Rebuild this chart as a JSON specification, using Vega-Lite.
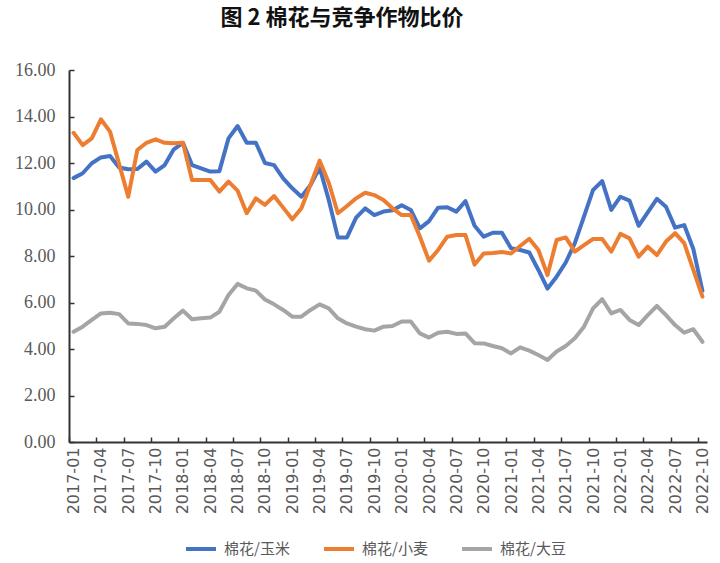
{
  "$schema": "https://vega.github.io/schema/vega-lite/v6.json",
  "autosize": {"type": "none"},
  "width": 638,
  "height": 372,
  "padding": {"left": 69, "top": 70, "right": 13, "bottom": 121},
  "background": "white",
  "title": {
    "text": "图 2  棉花与竞争作物比价",
    "font": "Noto Sans CJK SC",
    "fontSize": 22,
    "fontWeight": "bold",
    "color": "#111111",
    "anchor": "middle",
    "dx": -46,
    "offset": 31
  },
  "data": {
    "values": [
      {"month": "2017-01", "棉花/玉米": 11.35, "棉花/小麦": 13.3, "棉花/大豆": 4.74},
      {"month": "2017-02", "棉花/玉米": 11.56, "棉花/小麦": 12.77, "棉花/大豆": 4.96},
      {"month": "2017-03", "棉花/玉米": 11.99, "棉花/小麦": 13.06, "棉花/大豆": 5.25},
      {"month": "2017-04", "棉花/玉米": 12.24, "棉花/小麦": 13.88, "棉花/大豆": 5.53},
      {"month": "2017-05", "棉花/玉米": 12.3, "棉花/小麦": 13.35, "棉花/大豆": 5.56},
      {"month": "2017-06", "棉花/玉米": 11.81, "棉花/小麦": 11.95, "棉花/大豆": 5.5},
      {"month": "2017-07", "棉花/玉米": 11.73, "棉花/小麦": 10.55, "棉花/大豆": 5.1},
      {"month": "2017-08", "棉花/玉米": 11.74, "棉花/小麦": 12.56, "棉花/大豆": 5.08},
      {"month": "2017-09", "棉花/玉米": 12.06, "棉花/小麦": 12.87, "棉花/大豆": 5.03},
      {"month": "2017-10", "棉花/玉米": 11.63, "棉花/小麦": 13.02, "棉花/大豆": 4.89},
      {"month": "2017-11", "棉花/玉米": 11.91, "棉花/小麦": 12.87, "棉花/大豆": 4.96},
      {"month": "2017-12", "棉花/玉米": 12.59, "棉花/小麦": 12.85, "棉花/大豆": 5.32},
      {"month": "2018-01", "棉花/玉米": 12.87, "棉花/小麦": 12.87, "棉花/大豆": 5.65},
      {"month": "2018-02", "棉花/玉米": 11.91, "棉花/小麦": 11.27, "棉花/大豆": 5.28},
      {"month": "2018-03", "棉花/玉米": 11.77, "棉花/小麦": 11.27, "棉花/大豆": 5.32},
      {"month": "2018-04", "棉花/玉米": 11.63, "棉花/小麦": 11.27, "棉花/大豆": 5.35},
      {"month": "2018-05", "棉花/玉米": 11.65, "棉花/小麦": 10.77, "棉花/大豆": 5.6},
      {"month": "2018-06", "棉花/玉米": 13.06, "棉花/小麦": 11.2, "棉花/大豆": 6.32},
      {"month": "2018-07", "棉花/玉米": 13.59, "棉花/小麦": 10.81, "棉花/大豆": 6.8},
      {"month": "2018-08", "棉花/玉米": 12.87, "棉花/小麦": 9.84, "棉花/大豆": 6.61},
      {"month": "2018-09", "棉花/玉米": 12.87, "棉花/小麦": 10.48, "棉花/大豆": 6.51},
      {"month": "2018-10", "棉花/玉米": 12.0, "棉花/小麦": 10.2, "棉花/大豆": 6.13},
      {"month": "2018-11", "棉花/玉米": 11.91, "棉花/小麦": 10.58, "棉花/大豆": 5.92},
      {"month": "2018-12", "棉花/玉米": 11.34, "棉花/小麦": 10.08, "棉花/大豆": 5.68},
      {"month": "2019-01", "棉花/玉米": 10.91, "棉花/小麦": 9.58, "棉花/大豆": 5.39},
      {"month": "2019-02", "棉花/玉米": 10.55, "棉花/小麦": 10.05, "棉花/大豆": 5.39},
      {"month": "2019-03", "棉花/玉米": 11.05, "棉花/小麦": 11.07, "棉花/大豆": 5.68},
      {"month": "2019-04", "棉花/玉米": 11.8, "棉花/小麦": 12.1, "棉花/大豆": 5.92},
      {"month": "2019-05", "棉花/玉米": 10.41, "棉花/小麦": 11.15, "棉花/大豆": 5.75},
      {"month": "2019-06", "棉花/玉米": 8.8, "棉花/小麦": 9.84, "棉花/大豆": 5.32},
      {"month": "2019-07", "棉花/玉米": 8.8, "棉花/小麦": 10.15, "棉花/大豆": 5.1},
      {"month": "2019-08", "棉花/玉米": 9.65, "棉花/小麦": 10.48, "棉花/大豆": 4.96},
      {"month": "2019-09", "棉花/玉米": 10.05, "棉花/小麦": 10.72, "棉花/大豆": 4.85},
      {"month": "2019-10", "棉花/玉米": 9.76, "棉花/小麦": 10.62, "棉花/大豆": 4.79},
      {"month": "2019-11", "棉花/玉米": 9.91, "棉花/小麦": 10.41, "棉花/大豆": 4.96},
      {"month": "2019-12", "棉花/玉米": 9.97, "棉花/小麦": 10.05, "棉花/大豆": 4.99},
      {"month": "2020-01", "棉花/玉米": 10.18, "棉花/小麦": 9.76, "棉花/大豆": 5.18},
      {"month": "2020-02", "棉花/玉米": 9.98, "棉花/小麦": 9.76, "棉花/大豆": 5.18},
      {"month": "2020-03", "棉花/玉米": 9.19, "棉花/小麦": 8.83, "棉花/大豆": 4.67},
      {"month": "2020-04", "棉花/玉米": 9.5, "棉花/小麦": 7.8, "棉花/大豆": 4.49},
      {"month": "2020-05", "棉花/玉米": 10.08, "棉花/小麦": 8.26, "棉花/大豆": 4.7},
      {"month": "2020-06", "棉花/玉米": 10.1, "棉花/小麦": 8.83, "棉花/大豆": 4.74},
      {"month": "2020-07", "棉花/玉米": 9.91, "棉花/小麦": 8.9, "棉花/大豆": 4.65},
      {"month": "2020-08", "棉花/玉米": 10.36, "棉花/小麦": 8.9, "棉花/大豆": 4.67},
      {"month": "2020-09", "棉花/玉米": 9.3, "棉花/小麦": 7.63, "棉花/大豆": 4.25},
      {"month": "2020-10", "棉花/玉米": 8.83, "棉花/小麦": 8.11, "棉花/大豆": 4.24},
      {"month": "2020-11", "棉花/玉米": 9.0, "棉花/小麦": 8.13, "棉花/大豆": 4.13},
      {"month": "2020-12", "棉花/玉米": 9.0, "棉花/小麦": 8.17, "棉花/大豆": 4.03},
      {"month": "2021-01", "棉花/玉米": 8.33, "棉花/小麦": 8.11, "棉花/大豆": 3.81},
      {"month": "2021-02", "棉花/玉米": 8.26, "棉花/小麦": 8.43, "棉花/大豆": 4.07},
      {"month": "2021-03", "棉花/玉米": 8.15, "棉花/小麦": 8.74, "棉花/大豆": 3.93},
      {"month": "2021-04", "棉花/玉米": 7.4, "棉花/小麦": 8.26, "棉花/大豆": 3.74},
      {"month": "2021-05", "棉花/玉米": 6.6, "棉花/小麦": 7.18, "棉花/大豆": 3.53},
      {"month": "2021-06", "棉花/玉米": 7.11, "棉花/小麦": 8.69, "棉花/大豆": 3.89},
      {"month": "2021-07", "棉花/玉米": 7.72, "棉花/小麦": 8.8, "棉花/大豆": 4.13},
      {"month": "2021-08", "棉花/玉米": 8.55, "棉花/小麦": 8.19, "棉花/大豆": 4.46},
      {"month": "2021-09", "棉花/玉米": 9.69, "棉花/小麦": 8.47, "棉花/大豆": 4.96},
      {"month": "2021-10", "棉花/玉米": 10.84, "棉花/小麦": 8.73, "棉花/大豆": 5.75},
      {"month": "2021-11", "棉花/玉米": 11.22, "棉花/小麦": 8.73, "棉花/大豆": 6.14},
      {"month": "2021-12", "棉花/玉米": 9.98, "棉花/小麦": 8.19, "棉花/大豆": 5.53},
      {"month": "2022-01", "棉花/玉米": 10.55, "棉花/小麦": 8.95, "棉花/大豆": 5.68},
      {"month": "2022-02", "棉花/玉米": 10.38, "棉花/小麦": 8.76, "棉花/大豆": 5.25},
      {"month": "2022-03", "棉花/玉米": 9.3, "棉花/小麦": 7.97, "棉花/大豆": 5.03},
      {"month": "2022-04", "棉花/玉米": 9.88, "棉花/小麦": 8.4, "棉花/大豆": 5.46},
      {"month": "2022-05", "棉花/玉米": 10.46, "棉花/小麦": 8.04, "棉花/大豆": 5.85},
      {"month": "2022-06", "棉花/玉米": 10.12, "棉花/小麦": 8.62, "棉花/大豆": 5.46},
      {"month": "2022-07", "棉花/玉米": 9.22, "棉花/小麦": 8.98, "棉花/大豆": 5.03},
      {"month": "2022-08", "棉花/玉米": 9.33, "棉花/小麦": 8.55, "棉花/大豆": 4.7},
      {"month": "2022-09", "棉花/玉米": 8.3, "棉花/小麦": 7.4, "棉花/大豆": 4.85},
      {"month": "2022-10", "棉花/玉米": 6.5, "棉花/小麦": 6.25, "棉花/大豆": 4.31}
    ]
  },
  "transform": [
    {"fold": ["棉花/玉米", "棉花/小麦", "棉花/大豆"], "as": ["series", "ratio"]}
  ],
  "mark": {"type": "line", "strokeWidth": 4, "strokeJoin": "round", "strokeCap": "round"},
  "encoding": {
    "x": {
      "field": "month",
      "type": "ordinal",
      "scale": {"type": "point", "padding": 0.5},
      "axis": {
        "title": null,
        "values": ["2017-01","2017-04","2017-07","2017-10","2018-01","2018-04","2018-07","2018-10","2019-01","2019-04","2019-07","2019-10","2020-01","2020-04","2020-07","2020-10","2021-01","2021-04","2021-07","2021-10","2022-01","2022-04","2022-07","2022-10"],
        "labelAngle": 270,
        "labelFont": "DejaVu Sans",
        "labelFontSize": 16,
        "labelColor": "#595959",
        "labelPadding": 10,
        "tickOffset": -4.56,
        "labelOffset": 4.56,
        "tickSize": -5,
        "tickWidth": 1.5,
        "tickColor": "#333333",
        "domainColor": "#333333",
        "domainWidth": 2,
        "grid": false
      }
    },
    "y": {
      "field": "ratio",
      "type": "quantitative",
      "scale": {"domain": [0, 16]},
      "axis": {
        "title": null,
        "values": [0, 2, 4, 6, 8, 10, 12, 14, 16],
        "format": ".2f",
        "labelFont": "Liberation Sans Narrow",
        "labelFontSize": 18,
        "labelColor": "#595959",
        "labelPadding": 19,
        "tickSize": -5,
        "tickWidth": 1.5,
        "tickColor": "#333333",
        "domainColor": "#333333",
        "domainWidth": 2,
        "grid": false
      }
    },
    "color": {
      "field": "series",
      "type": "nominal",
      "scale": {
        "domain": ["棉花/玉米", "棉花/小麦", "棉花/大豆"],
        "range": ["#4472C4", "#ED7D31", "#A5A5A5"]
      },
      "legend": {
        "title": null,
        "orient": "none",
        "direction": "horizontal",
        "legendX": 115,
        "legendY": 462,
        "symbolType": "stroke",
        "symbolSize": 900,
        "symbolStrokeWidth": 4,
        "labelFont": "Noto Sans CJK SC",
        "labelFontSize": 15,
        "labelColor": "#595959",
        "labelOffset": 6,
        "columnPadding": 26
      }
    }
  },
  "config": {"view": {"stroke": null}}
}
